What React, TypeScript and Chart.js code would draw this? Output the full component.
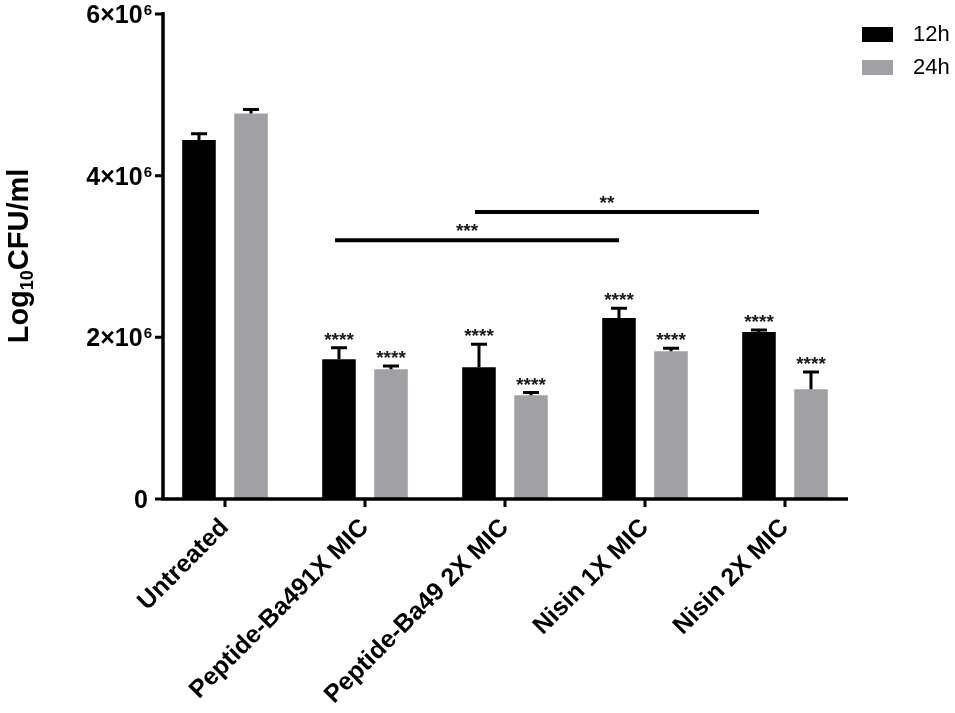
import { useEffect, useRef } from 'react'
import { Chart, registerables } from 'chart.js'

Chart.register(...registerables)

// values (CFU/ml), upper SEM only
const categories = ['Untreated', 'Peptide-Ba491X MIC', 'Peptide-Ba49 2X MIC', 'Nisin 1X MIC', 'Nisin 2X MIC']
const mean12h = [4.44e6, 1.73e6, 1.63e6, 2.24e6, 2.067e6]
const err12h = [0.08e6, 0.14e6, 0.285e6, 0.12e6, 0.025e6]
const mean24h = [4.77e6, 1.605e6, 1.283e6, 1.828e6, 1.357e6]
const err24h = [0.05e6, 0.04e6, 0.033e6, 0.037e6, 0.215e6]
const stars12h = ['', '****', '****', '****', '****']
const stars24h = ['', '****', '****', '****', '****']

// comparison bars between 12h groups
const bracketFrom = [1, 2]
const bracketTo = [3, 4]
const bracketY = [3.2e6, 3.55e6]
const bracketLabel = ['***', '**']

const yTicks = [0, 2e6, 4e6, 6e6]

const BLACK = '#000000'
const GREY = '#a1a1a5'
const FONT = "'Liberation Sans', Arial, sans-serif"

const overlay = {
  id: 'overlay',
  afterDatasetsDraw(chart: any) {
    const { ctx, chartArea } = chart
    const x = chart.scales.x
    const y = chart.scales.y
    const axisX = chartArea.left + 8
    const axisEnd = chartArea.right - 7
    const base = y.getPixelForValue(0)
    const errs = [err12h, err24h]
    const stars = [stars12h, stars24h]

    ctx.save()
    // error bars + stars
    chart.data.datasets.forEach((ds: any, di: number) => {
      const meta = chart.getDatasetMeta(di)
      meta.data.forEach((bar: any, i: number) => {
        const top = y.getPixelForValue(ds.data[i] + errs[di][i])
        ctx.strokeStyle = BLACK
        ctx.lineWidth = 3
        ctx.beginPath()
        ctx.moveTo(bar.x, bar.y)
        ctx.lineTo(bar.x, top)
        ctx.moveTo(bar.x - 8, top)
        ctx.lineTo(bar.x + 8, top)
        ctx.stroke()
        if (stars[di][i]) {
          ctx.fillStyle = '#1a1a1a'
          ctx.font = `bold 19px ${FONT}`
          ctx.textAlign = 'center'
          ctx.textBaseline = 'alphabetic'
          ctx.fillText(stars[di][i], bar.x, top - 2)
        }
      })
    })

    // comparison lines
    const m0 = chart.getDatasetMeta(0)
    bracketFrom.forEach((f, k) => {
      const x1 = m0.data[f].x - 4
      const x2 = m0.data[bracketTo[k]].x
      const py = y.getPixelForValue(bracketY[k])
      ctx.lineWidth = 4
      ctx.beginPath()
      ctx.moveTo(x1, py)
      ctx.lineTo(x2, py)
      ctx.stroke()
      ctx.fillStyle = '#1a1a1a'
      ctx.font = `bold 19px ${FONT}`
      ctx.textAlign = 'center'
      ctx.fillText(bracketLabel[k], (x1 + x2) / 2 - 10, py - 3)
    })

    // axes
    ctx.strokeStyle = BLACK
    ctx.lineWidth = 3.5
    ctx.beginPath()
    ctx.moveTo(axisX, chartArea.top - 2)
    ctx.lineTo(axisX, base)
    ctx.lineTo(axisEnd, base)
    ctx.stroke()
    ctx.lineWidth = 3
    ctx.beginPath()
    yTicks.forEach((v) => {
      const py = y.getPixelForValue(v)
      ctx.moveTo(axisX - 8, py)
      ctx.lineTo(axisX, py)
    })
    categories.forEach((_, i) => {
      const px = x.getPixelForValue(i)
      ctx.moveTo(px, base)
      ctx.lineTo(px, base + 8)
    })
    ctx.stroke()

    // y tick labels with superscript exponent
    ctx.fillStyle = BLACK
    ctx.textAlign = 'right'
    ctx.textBaseline = 'alphabetic'
    yTicks.forEach((v) => {
      const py = y.getPixelForValue(v)
      const right = axisX - 11
      if (v === 0) {
        ctx.font = `bold 25px ${FONT}`
        ctx.fillText('0', right - 4, py + 9)
        return
      }
      ctx.font = `bold 15px ${FONT}`
      ctx.fillText('6', right, py + 1)
      const w = ctx.measureText('6').width
      ctx.font = `bold 25px ${FONT}`
      ctx.fillText(`${v / 1e6}×10`, right - w - 1, py + 9)
    })

    // y axis title
    ctx.save()
    ctx.translate(28, 256)
    ctx.rotate(-Math.PI / 2)
    ctx.textAlign = 'left'
    const parts: [string, number, number][] = [['Log', 29, 0], ['10', 18, 5], ['CFU/ml', 29, 0]]
    let total = 0
    parts.forEach(([t, s]) => {
      ctx.font = `bold ${s}px ${FONT}`
      total += ctx.measureText(t).width
    })
    let cx = -total / 2
    parts.forEach(([t, s, dy]) => {
      ctx.font = `bold ${s}px ${FONT}`
      ctx.fillText(t, cx, dy)
      cx += ctx.measureText(t).width
    })
    ctx.restore()

    // legend
    chart.data.datasets.forEach((ds: any, di: number) => {
      const ly = 27 + di * 33
      ctx.fillStyle = ds.backgroundColor
      ctx.fillRect(862, ly, 31, 15)
      ctx.fillStyle = BLACK
      ctx.font = `22px ${FONT}`
      ctx.textAlign = 'left'
      ctx.textBaseline = 'middle'
      ctx.fillText(ds.label, 913, ly + 8)
    })
    ctx.restore()
  },
}

export default function App() {
  const ref = useRef<HTMLCanvasElement>(null)

  useEffect(() => {
    document.body.style.margin = '0'
    if (!ref.current) return
    const chart = new Chart(ref.current, {
      type: 'bar',
      data: {
        labels: categories,
        datasets: [
          { label: '12h', data: mean12h, backgroundColor: BLACK, categoryPercentage: 0.743, barPercentage: 0.645 },
          { label: '24h', data: mean24h, backgroundColor: GREY, categoryPercentage: 0.743, barPercentage: 0.645 },
        ],
      },
      options: {
        animation: false,
        responsive: true,
        maintainAspectRatio: false,
        layout: { padding: { left: 0, right: 100, top: 14, bottom: 0 } },
        plugins: { legend: { display: false }, tooltip: { enabled: false } },
        scales: {
          x: {
            grid: { display: false, drawTicks: false },
            border: { display: false },
            ticks: {
              color: BLACK,
              font: { family: FONT, size: 25, weight: 'bold' },
              minRotation: 45,
              maxRotation: 45,
              padding: 14,
            },
            afterFit: (s: any) => { s.height = 214 },
          },
          y: {
            min: 0,
            max: 6e6,
            grid: { display: false, drawTicks: false },
            border: { display: false },
            ticks: { display: false, stepSize: 2e6 },
            afterFit: (s: any) => { s.width = 155 },
          },
        },
      },
      plugins: [overlay],
    })
    return () => chart.destroy()
  }, [])

  return (
    <div style={{ position: 'relative', width: 955, height: 713 }}>
      <canvas ref={ref} role="img" aria-label="Bar chart of Log10 CFU/ml at 12h and 24h for five treatments" />
    </div>
  )
}
